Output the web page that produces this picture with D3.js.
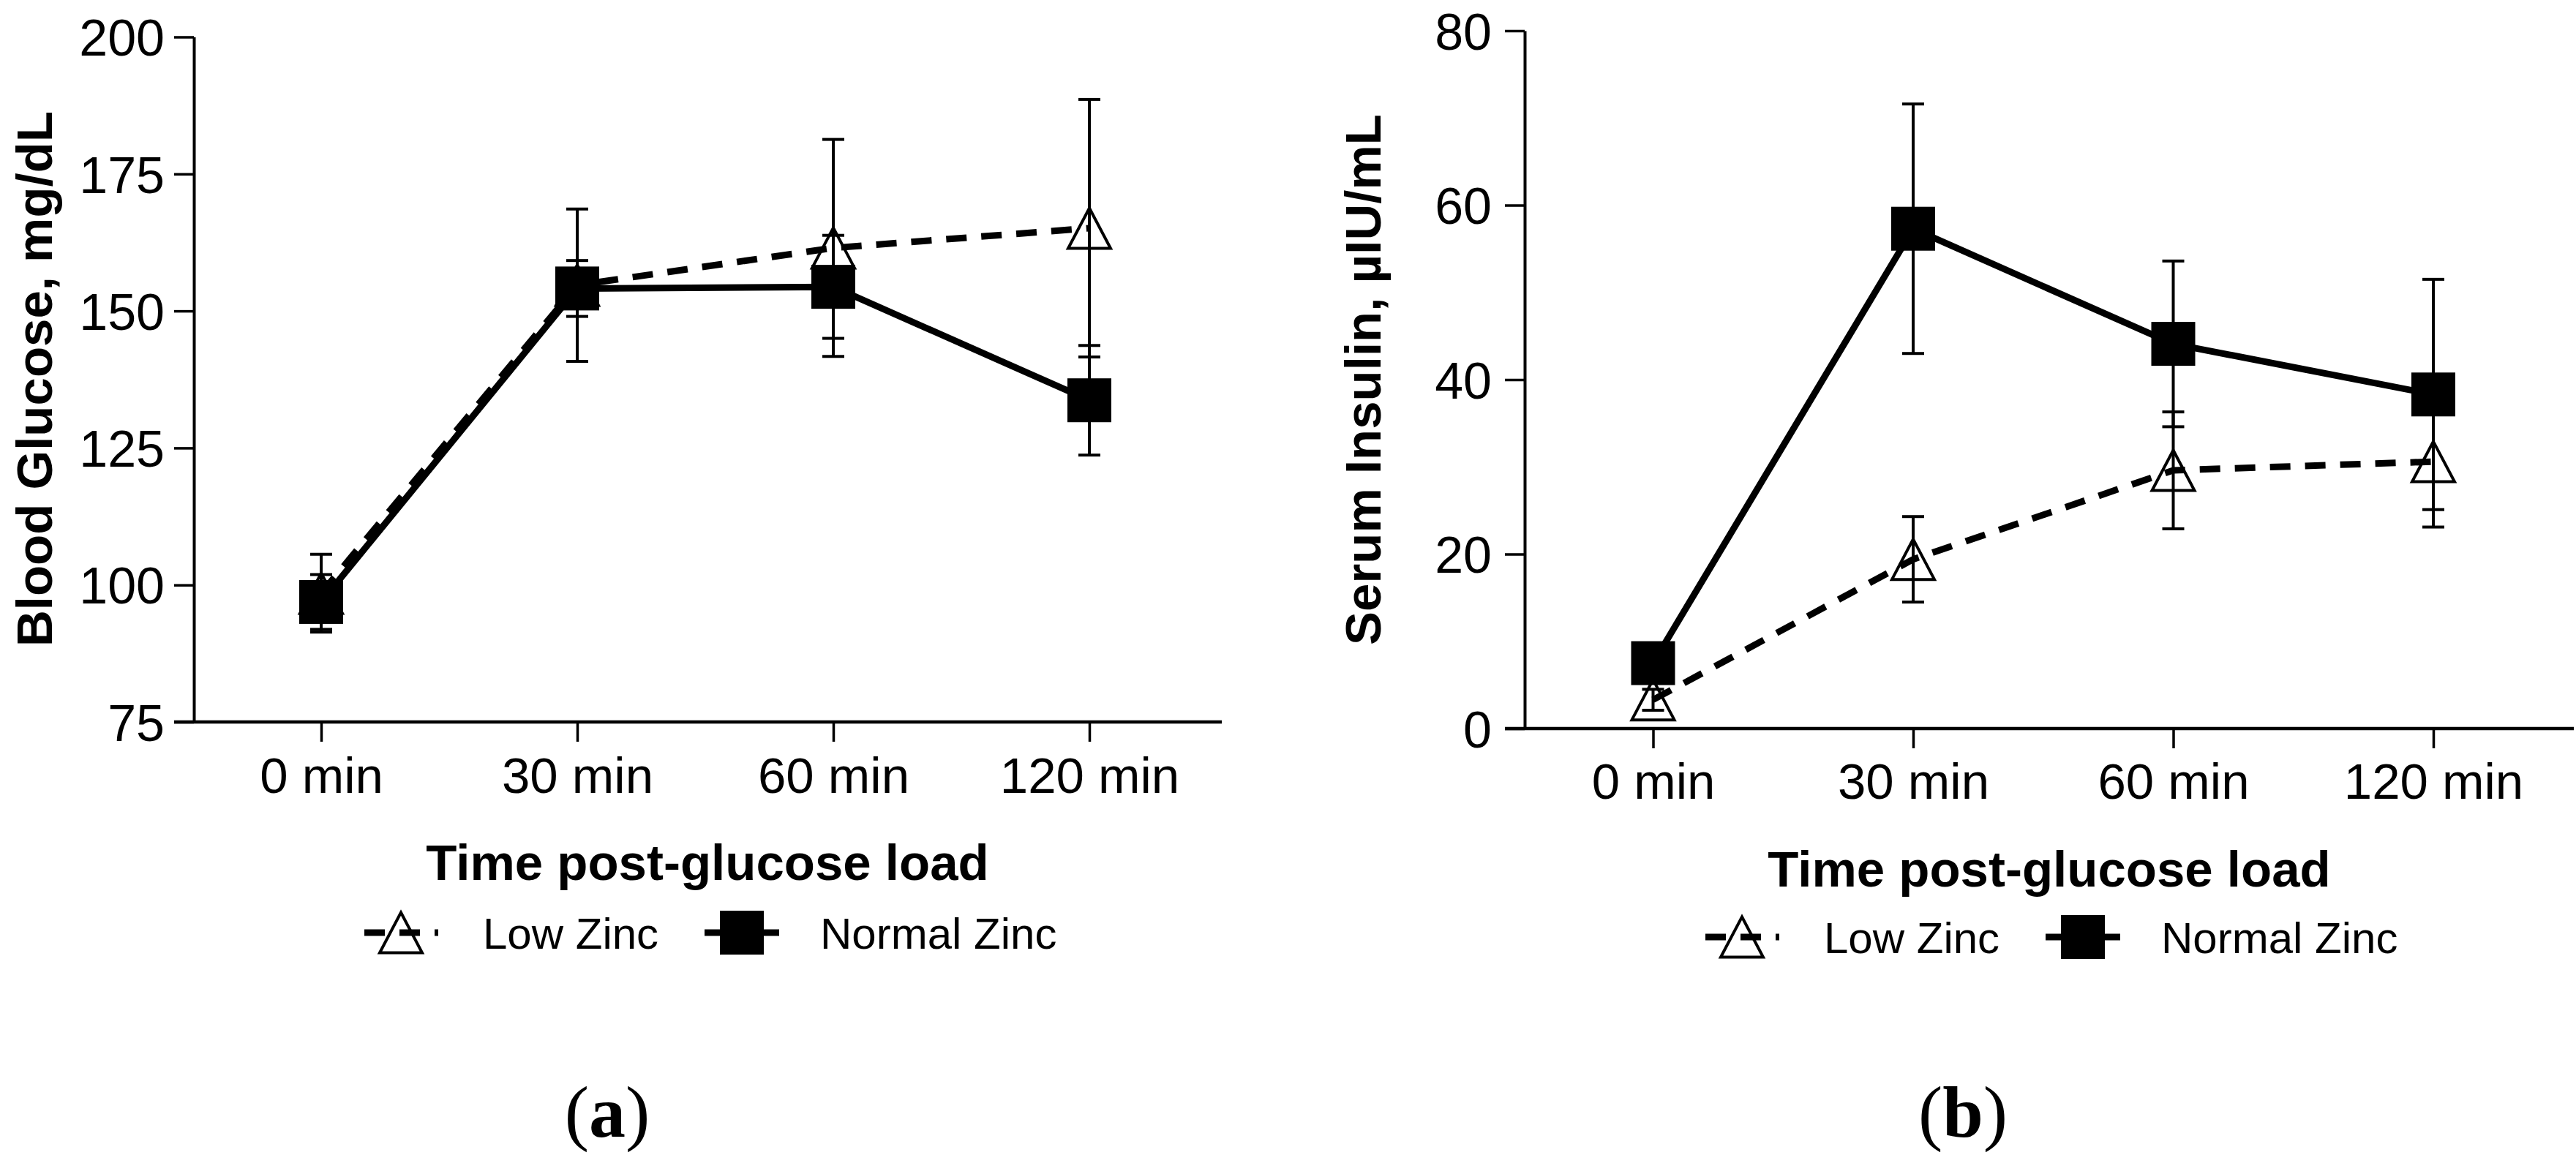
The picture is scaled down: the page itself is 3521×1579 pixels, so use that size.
<!DOCTYPE html>
<html>
<head>
<meta charset="utf-8">
<script src="https://cdnjs.cloudflare.com/ajax/libs/d3/7.8.5/d3.min.js"></script>
<style>
  html, body { margin: 0; padding: 0; background: #ffffff; }
  svg { display: block; }
</style>
</head>
<body>
<svg id="chart" width="3521" height="1579"></svg>
<script>
// ---------------- DATA ----------------
const times = ["0 min", "30 min", "60 min", "120 min"];
const seriesNames = ["Low Zinc", "Normal Zinc"];

const glucoseTicks = [75, 100, 125, 150, 175, 200];
const glucoseLow = [98.5, 154.7, 161.5, 165.1];
const glucoseLowErr = [7.1, 13.9, 19.8, 23.5];
const glucoseNormal = [96.9, 154.1, 154.4, 133.7];
const glucoseNormalErr = [5.0, 5.1, 9.4, 10.0];

const insulinTicks = [0, 20, 40, 60, 80];
const insulinLow = [3.3, 19.4, 29.6, 30.6];
const insulinLowErr = [1.2, 4.9, 6.7, 7.5];
const insulinNormal = [7.5, 57.3, 44.1, 38.3];
const insulinNormalErr = [1.5, 14.3, 9.5, 13.2];

const axisTitleX = "Time post-glucose load";
const panelLabels = ["a", "b"];

// ---------------- LAYOUT ----------------
const panels = [
  {
    yTitle: "Blood Glucose, mg/dL", domain: [75, 200], ticks: glucoseTicks,
    low: glucoseLow, lowErr: glucoseLowErr, normal: glucoseNormal, normalErr: glucoseNormalErr,
    axisX: 265, xEnd: 1670, yTop: 50.5, yBot: 987, x0: 439, x1: 1489,
    tickPad: 13, xTickPad: 21, yTitleX: 71, yTitleY: 518,
    xTitleX: 967, xTitleY: 1203, legendY: 1275, legendX: 548,
    label: panelLabels[0], labelX: 830
  },
  {
    yTitle: "Serum Insulin, \u00B5IU/mL", domain: [0, 80], ticks: insulinTicks,
    low: insulinLow, lowErr: insulinLowErr, normal: insulinNormal, normalErr: insulinNormalErr,
    axisX: 2084, xEnd: 3518, yTop: 42, yBot: 996, x0: 2259.5, x1: 3326,
    tickPad: 18, xTickPad: 20, yTitleX: 1887, yTitleY: 519,
    xTitleX: 2801, xTitleY: 1212, legendY: 1281, legendX: 2381,
    label: panelLabels[1], labelX: 2683
  }
];

const SANS = "'Liberation Sans', Arial, Helvetica, sans-serif";
const SERIF = "'Liberation Serif', 'Times New Roman', serif";
const triPath = "M0,-27.5 L29,27.5 L-29,27.5 Z";
const SQ = 60;
const CAP = 15;

const svg = d3.select("#chart");
svg.append("rect").attr("width", 3521).attr("height", 1579).attr("fill", "#fff");

panels.forEach(p => {
  const g = svg.append("g");
  const x = d3.scalePoint().domain(times).range([p.x0, p.x1]);
  const y = d3.scaleLinear().domain(p.domain).range([p.yBot, p.yTop]);

  // Y axis
  const yAxis = d3.axisLeft(y).tickValues(p.ticks).tickSize(27).tickPadding(p.tickPad).tickSizeOuter(0);
  const yg = g.append("g").attr("transform", `translate(${p.axisX},0)`).call(yAxis);
  yg.select(".domain").attr("stroke", "#000").attr("stroke-width", 4);
  yg.selectAll(".tick line").attr("stroke", "#000").attr("stroke-width", 3.5);
  yg.selectAll(".tick text")
    .attr("font-family", SANS).attr("font-size", 70).attr("fill", "#000").attr("dy", "0.36em");

  // X axis
  const xAxis = d3.axisBottom(x).tickSize(27).tickPadding(p.xTickPad).tickSizeOuter(0);
  const xg = g.append("g").attr("transform", `translate(0,${p.yBot})`).call(xAxis);
  xg.select(".domain").remove();
  xg.append("line").attr("x1", p.axisX - 27).attr("x2", p.xEnd).attr("y1", 0).attr("y2", 0)
    .attr("stroke", "#000").attr("stroke-width", 4.5);
  xg.selectAll(".tick line").attr("stroke", "#000").attr("stroke-width", 3.5);
  xg.selectAll(".tick text")
    .attr("font-family", SANS).attr("font-size", 69).attr("fill", "#000");

  // Axis titles
  g.append("text")
    .attr("transform", `translate(${p.yTitleX},${p.yTitleY}) rotate(-90)`)
    .attr("text-anchor", "middle")
    .attr("font-family", SANS).attr("font-weight", "bold").attr("font-size", 69)
    .text(p.yTitle);
  g.append("text")
    .attr("x", p.xTitleX).attr("y", p.xTitleY)
    .attr("text-anchor", "middle")
    .attr("font-family", SANS).attr("font-weight", "bold").attr("font-size", 69)
    .text(axisTitleX);

  const line = d3.line().x((d, i) => x(times[i])).y(d => y(d));

  function errorBars(vals, errs) {
    const eg = g.append("g").attr("stroke", "#000").attr("stroke-width", 4);
    vals.forEach((v, i) => {
      const cx = x(times[i]);
      eg.append("line").attr("x1", cx).attr("x2", cx).attr("y1", y(v + errs[i])).attr("y2", y(v - errs[i]));
      eg.append("line").attr("x1", cx - CAP).attr("x2", cx + CAP).attr("y1", y(v + errs[i])).attr("y2", y(v + errs[i]));
      eg.append("line").attr("x1", cx - CAP).attr("x2", cx + CAP).attr("y1", y(v - errs[i])).attr("y2", y(v - errs[i]));
    });
  }

  // Low Zinc (dashed, open triangles)
  g.append("path").datum(p.low).attr("d", line)
    .attr("fill", "none").attr("stroke", "#000").attr("stroke-width", 9)
    .attr("stroke-dasharray", "28,20").attr("stroke-linejoin", "round");
  errorBars(p.low, p.lowErr);
  g.selectAll(null).data(p.low).enter().append("path")
    .attr("d", triPath)
    .attr("transform", (d, i) => `translate(${x(times[i])},${y(d)})`)
    .attr("fill", "none").attr("stroke", "#000").attr("stroke-width", 4);

  // Normal Zinc (solid, filled squares)
  g.append("path").datum(p.normal).attr("d", line)
    .attr("fill", "none").attr("stroke", "#000").attr("stroke-width", 9)
    .attr("stroke-linejoin", "round");
  errorBars(p.normal, p.normalErr);
  g.selectAll(null).data(p.normal).enter().append("rect")
    .attr("x", (d, i) => x(times[i]) - SQ / 2)
    .attr("y", d => y(d) - SQ / 2)
    .attr("width", SQ).attr("height", SQ).attr("fill", "#000");

  // Legend
  const lg = g.append("g").attr("transform", `translate(${p.legendX},${p.legendY})`);
  lg.append("line").attr("x1", -50).attr("x2", 51).attr("y1", 0).attr("y2", 0)
    .attr("stroke", "#000").attr("stroke-width", 9).attr("stroke-dasharray", "28,20");
  lg.append("path").attr("d", triPath).attr("fill", "none").attr("stroke", "#000").attr("stroke-width", 4);
  lg.append("text").attr("x", 112).attr("y", 0).attr("dy", "0.36em")
    .attr("font-family", SANS).attr("font-size", 60).text(seriesNames[0]);
  lg.append("line").attr("x1", 466 - 51).attr("x2", 466 + 51).attr("y1", 0).attr("y2", 0)
    .attr("stroke", "#000").attr("stroke-width", 9);
  lg.append("rect").attr("x", 466 - SQ / 2).attr("y", -SQ / 2).attr("width", SQ).attr("height", SQ).attr("fill", "#000");
  lg.append("text").attr("x", 573).attr("y", 0).attr("dy", "0.36em")
    .attr("font-family", SANS).attr("font-size", 60).text(seriesNames[1]);

  // Panel label
  const t = svg.append("text").attr("x", p.labelX).attr("y", 1554)
    .attr("text-anchor", "middle").attr("font-family", SERIF).attr("font-size", 100);
  t.append("tspan").text("(");
  t.append("tspan").attr("font-weight", "bold").text(p.label);
  t.append("tspan").text(")");
});
</script>
</body>
</html>
